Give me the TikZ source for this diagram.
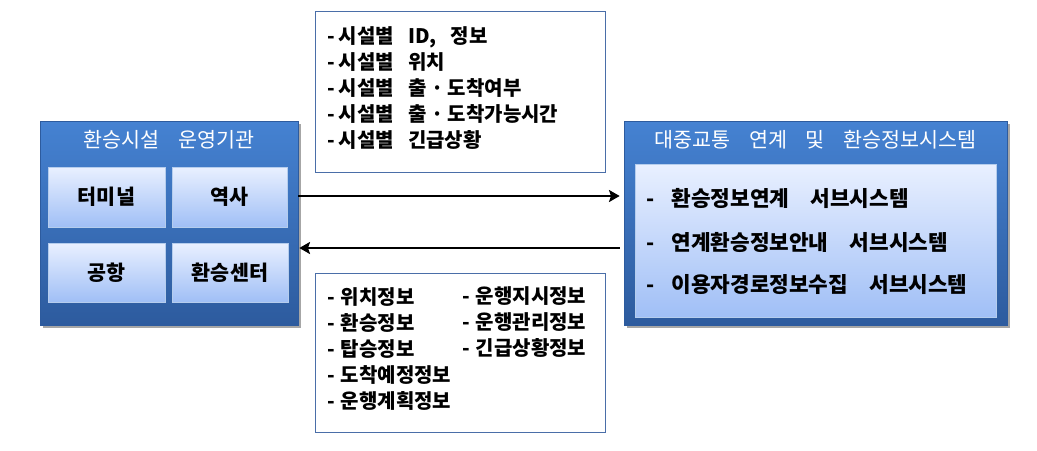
\documentclass[tikz,border=0pt]{standalone}
\usepackage{fontspec}
\setmainfont{Noto Sans CJK KR}
\usetikzlibrary{arrows.meta,shadows}
\newdimen\upx \upx=0.75pt
\definecolor{outertop}{HTML}{4582D2}
\definecolor{outerbot}{HTML}{2D5B9E}
\definecolor{innertop}{HTML}{E9F0FF}
\definecolor{innerbot}{HTML}{A0BFF6}
\definecolor{boxline}{HTML}{4A6EA8}
\begin{document}
\begin{tikzpicture}[x=0.75pt,y=-0.75pt,
  outerbox/.style={draw=outerbot, line width=0.5pt, top color=outertop, bottom color=outerbot, inner sep=0pt,
    drop shadow={shadow xshift=2pt, shadow yshift=-2pt, opacity=0.35, fill=black}},
  innerbox/.style={draw=white!60!outertop, line width=0.6pt, top color=innertop, bottom color=innerbot, inner sep=0pt,
    drop shadow={shadow xshift=1pt, shadow yshift=-1pt, opacity=0.45, fill=outerbot!70!black},
    font=\fontsize{15.5}{18}\selectfont\bfseries},
  txtbox/.style={draw=boxline, line width=0.7pt, fill=white, inner sep=0pt},
  title/.style={text=white, font=\fontsize{15.5}{18}\selectfont, inner sep=0pt},
  item/.style={anchor=west, font=\fontsize{16}{19}\selectfont\bfseries, inner sep=0pt},
  list/.style={anchor=west, align=left, font=\fontsize{15}{19.5}\selectfont\bfseries, inner sep=0pt},
  flow/.style={line width=1.6pt, -{Stealth[length=8pt,width=9pt,inset=1.5pt]}}]
\useasboundingbox (0,0) rectangle (1037,450);

% left system
\node[outerbox, minimum width=258\upx, minimum height=204\upx] (left) at (169,223) {};
\node[title] (lefttitle) at (169,140) {환승시설\hspace{0.9em}운영기관};
\node[innerbox, minimum width=117\upx, minimum height=60\upx] (term) at (106.5,197) {터미널};
\node[innerbox, minimum width=115\upx, minimum height=60\upx] (station) at (229.5,197) {역사};
\node[innerbox, minimum width=117\upx, minimum height=59\upx] (airport) at (106.5,272.5) {공항};
\node[innerbox, minimum width=116\upx, minimum height=59\upx] (center) at (230,272.5) {환승센터};

% right system
\node[outerbox, minimum width=383\upx, minimum height=204\upx] (right) at (815.5,223) {};
\node[title] (righttitle) at (815.5,140) {대중교통\hspace{0.9em}연계\hspace{0.9em}및\hspace{0.9em}환승정보시스템};
\node[innerbox, minimum width=361\upx, minimum height=153\upx] (rinner) at (815.5,240.5) {};
\node[item] (r1) at (646,198) {-\hspace{0.8em}환승정보연계\hspace{1em}서브시스템};
\node[item] (r2) at (646,242) {-\hspace{0.8em}연계환승정보안내\hspace{1em}서브시스템};
\node[item] (r3) at (646,285) {-\hspace{0.8em}이용자경로정보수집\hspace{1em}서브시스템};

% text boxes
\node[txtbox, minimum width=290\upx, minimum height=161\upx] (topbox) at (460,91.5) {};
\node[list] (toplist) at (327,88) {-\hspace{0.2em}시설별\hspace{0.7em}ID,\hspace{0.7em}정보\\
-\hspace{0.2em}시설별\hspace{0.7em}위치\\
-\hspace{0.2em}시설별\hspace{0.7em}출 · 도착여부\\
-\hspace{0.2em}시설별\hspace{0.7em}출 · 도착가능시간\\
-\hspace{0.2em}시설별\hspace{0.7em}긴급상황};

\node[txtbox, minimum width=290\upx, minimum height=159\upx] (botbox) at (460,352.5) {};
\node[list] (botlist1) at (327,349) {-\hspace{0.3em}위치정보\\
-\hspace{0.3em}환승정보\\
-\hspace{0.3em}탑승정보\\
-\hspace{0.3em}도착예정정보\\
-\hspace{0.3em}운행계획정보};
\node[list] (botlist2) at (462,322) {-\hspace{0.3em}운행지시정보\\
-\hspace{0.3em}운행관리정보\\
-\hspace{0.3em}긴급상황정보};

% flows
\draw[flow, shorten >=4\upx] (left.east |- 0,196) -- (right.west |- 0,196);
\draw[flow, shorten <=4\upx, shorten >=1\upx] (right.west |- 0,248) -- (left.east |- 0,248);
\end{tikzpicture}
\end{document}
